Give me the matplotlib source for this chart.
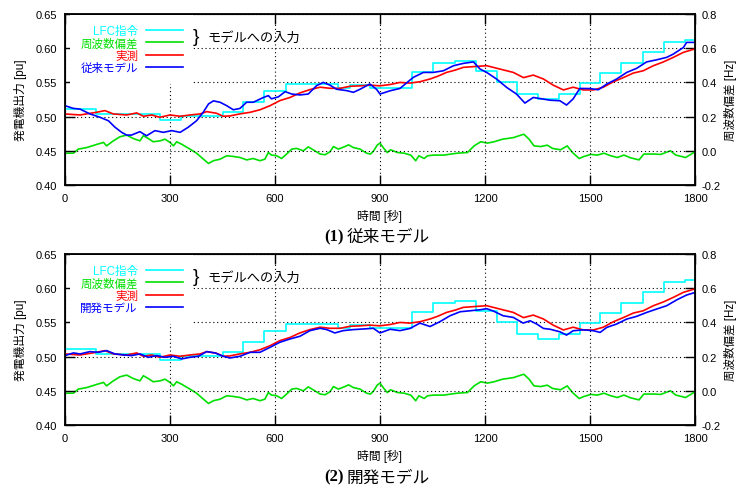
import matplotlib
matplotlib.use("Agg")
import matplotlib.pyplot as plt
from matplotlib.ticker import FormatStrFormatter

plt.rcParams['font.family'] = ['Liberation Sans', 'Noto Sans CJK JP']
plt.rcParams['axes.unicode_minus'] = False

# LFC command (step signal) [pu]
lfc_t = [0, 90, 271, 331, 452, 510, 570, 632, 780, 814, 871, 992, 1052, 1113, 1173,
         1233, 1292, 1352, 1411, 1471, 1530, 1590, 1651, 1711, 1772, 1800]
lfc_v = [0.511, 0.504, 0.495, 0.501, 0.507, 0.522, 0.537, 0.547, 0.542, 0.546, 0.542,
         0.565, 0.578, 0.581, 0.566, 0.551, 0.533, 0.526, 0.533, 0.549, 0.564, 0.579,
         0.594, 0.609, 0.612, 0.612]

# frequency deviation [Hz]
freq_t = [0, 24, 38, 62, 90, 110, 119, 138, 157, 176, 195, 214, 224, 238, 252, 271, 286,
          300, 310, 319, 333, 357, 376, 390, 410, 424, 443, 462, 481, 500, 519, 538, 557,
          571, 581, 590, 605, 619, 633, 648, 662, 681, 695, 714, 729, 743, 757, 767, 781,
          800, 810, 824, 843, 862, 873, 882, 892, 900, 911, 921, 930, 950, 969, 988, 1002,
          1011, 1026, 1036, 1054, 1083, 1102, 1121, 1150, 1169, 1188, 1207, 1226, 1250,
          1264, 1283, 1297, 1311, 1326, 1340, 1359, 1378, 1393, 1416, 1435, 1450, 1469,
          1483, 1502, 1521, 1540, 1559, 1578, 1597, 1616, 1640, 1654, 1683, 1702, 1730,
          1745, 1773, 1788, 1800]
freq_v = [-0.014, -0.014, 0.010, 0.019, 0.037, 0.049, 0.029, 0.058, 0.082, 0.092,
          0.072, 0.058, 0.088, 0.072, 0.053, 0.058, 0.068, 0.049, 0.029, 0.053,
          0.039, 0.010, -0.014, -0.039, -0.074, -0.058, -0.049, -0.029, -0.033, -0.039,
          -0.053, -0.045, -0.058, -0.049, -0.010, -0.025, -0.029, -0.045, -0.019, 0.010,
          0.014, 0.000, 0.023, 0.000, -0.019, -0.023, -0.006, 0.025, 0.010, 0.025,
          0.035, 0.019, 0.010, -0.014, -0.019, 0.000, 0.033, 0.045, 0.014, -0.010,
          0.006, -0.010, -0.014, -0.025, -0.058, -0.029, -0.045, -0.029, -0.025, -0.025,
          -0.019, -0.014, -0.010, 0.029, 0.053, 0.045, 0.053, 0.068, 0.072, 0.078,
          0.088, 0.097, 0.068, 0.029, 0.025, 0.033, 0.014, 0.006, 0.029, -0.010,
          -0.045, -0.033, -0.021, -0.025, -0.014, -0.029, -0.039, -0.025, -0.041, -0.053,
          -0.019, -0.019, -0.021, 0.000, -0.025, -0.039, -0.021, -0.006]

# measured generator output [pu]
meas_t = [0, 43, 90, 114, 138, 176, 205, 224, 248, 271, 300, 329, 357, 386, 405, 433,
          452, 471, 500, 529, 557, 586, 614, 643, 671, 700, 729, 757, 786, 814, 843, 871,
          900, 930, 957, 985, 1014, 1043, 1065, 1090, 1115, 1138, 1176, 1205, 1243, 1281,
          1310, 1338, 1367, 1395, 1424, 1452, 1481, 1510, 1538, 1567, 1595, 1624, 1652,
          1681, 1710, 1738, 1767, 1800]
meas_v = [0.5039, 0.5024, 0.5063, 0.5088, 0.5039, 0.5024, 0.5054, 0.5005, 0.5024, 0.499,
          0.5024, 0.5005, 0.5024, 0.5039, 0.5073, 0.5049, 0.5005, 0.501, 0.504, 0.5063,
          0.510, 0.516, 0.5234, 0.528, 0.5346, 0.5395, 0.543, 0.5414, 0.5414, 0.5443,
          0.545, 0.546, 0.545, 0.547, 0.550, 0.549, 0.551, 0.555, 0.559, 0.5646,
          0.568, 0.572, 0.5734, 0.5744, 0.5695, 0.5646, 0.557, 0.5607, 0.555, 0.546,
          0.539, 0.543, 0.539, 0.539, 0.543, 0.551, 0.557, 0.5637, 0.567, 0.5744,
          0.580, 0.5866, 0.594, 0.599]

# conventional model output [pu]
conv_t = [0, 24, 43, 71, 100, 124, 143, 162, 176, 190, 214, 233, 257, 281, 305, 329, 352,
          376, 395, 410, 424, 443, 462, 481, 500, 519, 538, 567, 581, 590, 610, 629, 648,
          671, 695, 719, 738, 757, 776, 805, 824, 843, 871, 890, 900, 929, 957, 995, 1024,
          1052, 1081, 1110, 1138, 1167, 1186, 1205, 1233, 1262, 1290, 1314, 1338, 1367,
          1386, 1414, 1433, 1452, 1471, 1500, 1524, 1548, 1576, 1605, 1633, 1662, 1690,
          1719, 1738, 1767, 1776, 1800]
conv_v = [0.516, 0.512, 0.511, 0.504, 0.499, 0.494, 0.4844, 0.477, 0.473, 0.473,
          0.478, 0.472, 0.4795, 0.477, 0.4795, 0.477, 0.4844, 0.494, 0.5063, 0.5185,
          0.523, 0.521, 0.516, 0.510, 0.512, 0.521, 0.521, 0.528, 0.5307, 0.526,
          0.529, 0.5365, 0.533, 0.5317, 0.533, 0.5453, 0.550, 0.546, 0.540, 0.538,
          0.5355, 0.540, 0.5477, 0.540, 0.533, 0.5378, 0.5412, 0.5573, 0.5646, 0.5646,
          0.567, 0.5744, 0.5778, 0.580, 0.5695, 0.5646, 0.555, 0.5427, 0.533, 0.5198,
          0.528, 0.5256, 0.524, 0.5232, 0.5169, 0.526, 0.5412, 0.541, 0.5393, 0.5476,
          0.5549, 0.5646, 0.5705, 0.580, 0.583, 0.5866, 0.5914, 0.6011, 0.6085, 0.6085]

# developed model output [pu]
dev_t = [0, 24, 43, 71, 95, 119, 143, 167, 190, 214, 238, 262, 286, 310, 333, 357, 381,
         405, 429, 452, 471, 500, 529, 557, 586, 614, 643, 671, 700, 729, 748, 771, 795,
         824, 852, 881, 900, 929, 957, 986, 1014, 1043, 1071, 1100, 1129, 1157, 1186,
         1205, 1224, 1252, 1281, 1309, 1329, 1348, 1367, 1386, 1414, 1433, 1452, 1481,
         1510, 1529, 1548, 1576, 1605, 1633, 1662, 1690, 1719, 1748, 1776, 1800]
dev_v = [0.5015, 0.5054, 0.5039, 0.5073, 0.5063, 0.5088, 0.5039, 0.5024, 0.5015, 0.5039,
         0.499, 0.5015, 0.499, 0.5005, 0.4966, 0.499, 0.5005, 0.5073, 0.5054, 0.5005,
         0.498, 0.5005, 0.5063, 0.5063, 0.5136, 0.521, 0.5258, 0.5297, 0.538, 0.5414,
         0.5395, 0.5346, 0.538, 0.5395, 0.5404, 0.5414, 0.5346, 0.540, 0.538, 0.5412,
         0.549, 0.544, 0.551, 0.5597, 0.5656, 0.567, 0.5685, 0.570, 0.5666, 0.5597,
         0.5573, 0.549, 0.5524, 0.5476, 0.5412, 0.540, 0.5363, 0.5315, 0.5378, 0.5392,
         0.5378, 0.5354, 0.5427, 0.5476, 0.5549, 0.5588, 0.5646, 0.5695, 0.5744, 0.583,
         0.590, 0.5938]

x_ticks = [0, 300, 600, 900, 1200, 1500, 1800]
left_ticks = [0.40, 0.45, 0.50, 0.55, 0.60, 0.65]
right_ticks = [-0.2, 0.0, 0.2, 0.4, 0.6, 0.8]

C_LFC = '#00ffff'
C_FREQ = '#00e000'
C_MEAS = '#ff0000'
C_MODEL = '#0000ff'


def draw_panel(ax, model_t, model_v, model_label, num, title):
    ax.set_xlim(0, 1800)
    ax.set_ylim(0.40, 0.65)
    ax.set_xticks(x_ticks)
    ax.set_yticks(left_ticks)
    ax.yaxis.set_major_formatter(FormatStrFormatter('%.2f'))
    ax.grid(True, color='black', linestyle=(0, (1, 2.5)), linewidth=0.8)
    ax.tick_params(direction='in', length=7, width=1.0, top=True, right=False,
                   labelsize=8, pad=6)
    for s in ax.spines.values():
        s.set_linewidth(1.3)

    h1, = ax.plot(lfc_t, lfc_v, color=C_LFC, lw=1.2, drawstyle='steps-post')
    ax2 = ax.twinx()
    h2, = ax2.plot(freq_t, freq_v, color=C_FREQ, lw=1.2)
    ax2.set_ylim(-0.2, 0.8)
    ax2.set_yticks(right_ticks)
    ax2.yaxis.set_major_formatter(FormatStrFormatter('%.1f'))
    ax2.tick_params(direction='in', length=7, width=1.0, labelsize=8, pad=5)
    h3, = ax.plot(meas_t, meas_v, color=C_MEAS, lw=1.2)
    h4, = ax.plot(model_t, model_v, color=C_MODEL, lw=1.2)
    # put model lines above the twin axis
    ax.set_zorder(ax2.get_zorder() + 1)
    ax.patch.set_visible(False)

    ax.set_ylabel('発電機出力 [pu]', fontsize=8.5, labelpad=6)
    ax2.set_ylabel('周波数偏差 [Hz]', fontsize=8.3, labelpad=2)
    ax.set_xlabel('時間 [秒]', fontsize=8.5, labelpad=4)

    leg = ax.legend([h1, h2, h3, h4], ['LFC指令', '周波数偏差', '実測', model_label],
                    loc='upper left', bbox_to_anchor=(0.008, 0.995), borderaxespad=0,
                    markerfirst=False, labelcolor='linecolor', fontsize=8.3,
                    frameon=True, fancybox=False, framealpha=1, facecolor='white',
                    edgecolor='none', handlelength=3.2, handletextpad=0.7,
                    labelspacing=0.02, borderpad=0.9)
    leg.set_zorder(10)
    ax.text(0.203, 0.87, '}', transform=ax.transAxes, fontsize=14, va='center',
            ha='left', family='Liberation Sans', zorder=11)
    ax.text(0.226, 0.865, 'モデルへの入力', transform=ax.transAxes, fontsize=9.5,
            va='center', ha='left', zorder=11)

    bb = ax.get_position()
    fig.text(0.4645, bb.y0 - 0.106, num, ha='right', va='center', fontsize=12,
             family='Liberation Serif', weight='bold')
    fig.text(0.4675, bb.y0 - 0.106, title, ha='left', va='center', fontsize=12,
             family='Noto Sans CJK JP')


fig = plt.figure(figsize=(7.41, 4.89), dpi=100)
ax_top = fig.add_axes([0.0877, 0.6196, 0.8502, 0.3497])
ax_bot = fig.add_axes([0.0877, 0.1288, 0.8502, 0.3497])

draw_panel(ax_top, conv_t, conv_v, '従来モデル', '(1)', '従来モデル')
draw_panel(ax_bot, dev_t, dev_v, '開発モデル', '(2)', '開発モデル')

fig.savefig('out.png', dpi=100)
